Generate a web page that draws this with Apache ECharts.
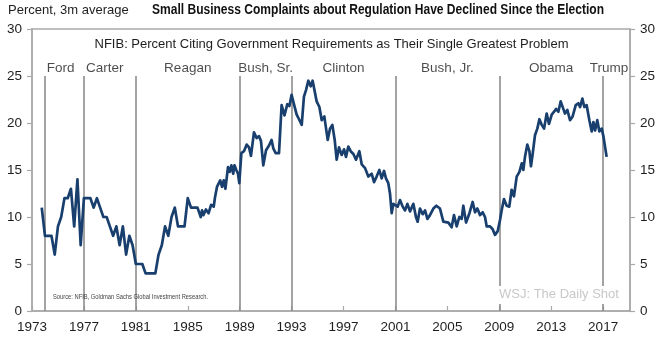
<!DOCTYPE html>
<html>
<head>
<meta charset="utf-8">
<script src="https://cdn.jsdelivr.net/npm/echarts@6/dist/echarts.min.js"></script>
<style>
  html, body { margin: 0; padding: 0; background: #fff; }
  #chart { width: 663px; height: 345px; }
</style>
</head>
<body>
<div id="chart"></div>
<script>
// NFIB survey: share of owners naming government requirements as their single biggest problem (3m average)
const years = [
  1973.75, 1974.0, 1974.25, 1974.5, 1974.75, 1975.0, 1975.25, 1975.5, 1975.75, 1976.0,
  1976.25, 1976.5, 1976.75, 1977.0, 1977.25, 1977.5, 1977.75, 1978.0, 1978.25, 1978.5,
  1978.75, 1979.0, 1979.25, 1979.5, 1979.75, 1980.0, 1980.25, 1980.5, 1980.75, 1981.0,
  1981.25, 1981.5, 1981.75, 1982.0, 1982.25, 1982.5, 1982.75, 1983.0, 1983.25, 1983.5,
  1983.75, 1984.0, 1984.25, 1984.5, 1984.75, 1985.0, 1985.25, 1985.5, 1985.75, 1986.0,
  1986.1, 1986.2, 1986.4, 1986.6, 1986.8, 1987.0, 1987.1, 1987.25, 1987.4, 1987.5,
  1987.64, 1987.77, 1987.9, 1988.1, 1988.23, 1988.36, 1988.5, 1988.6, 1988.74, 1988.87,
  1988.97, 1989.13, 1989.33, 1989.54, 1989.72, 1989.87, 1990.1, 1990.31, 1990.49, 1990.64,
  1990.82, 1991.03, 1991.26, 1991.46, 1991.59, 1991.77, 1992.03, 1992.23, 1992.45, 1992.67,
  1992.83, 1993.0, 1993.18, 1993.39, 1993.57, 1993.78, 1993.95, 1994.11, 1994.29, 1994.47,
  1994.62, 1994.75, 1994.93, 1995.14, 1995.32, 1995.52, 1995.78, 1995.96, 1996.14, 1996.32,
  1996.47, 1996.65, 1996.86, 1997.04, 1997.19, 1997.37, 1997.55, 1997.76, 1997.96, 1998.22,
  1998.4, 1998.66, 1998.91, 1999.17, 1999.35, 1999.55, 1999.76, 1999.94, 2000.12, 2000.27,
  2000.45, 2000.58, 2000.71, 2000.84, 2000.97, 2001.17, 2001.35, 2001.56, 2001.74, 2001.92,
  2002.12, 2002.38, 2002.58, 2002.71, 2002.89, 2003.1, 2003.28, 2003.46, 2003.66, 2003.92,
  2004.15, 2004.43, 2004.69, 2005.08, 2005.33, 2005.51, 2005.72, 2005.92, 2006.1, 2006.23,
  2006.44, 2006.7, 2006.95, 2007.13, 2007.31, 2007.52, 2007.72, 2007.9, 2008.03, 2008.29,
  2008.49, 2008.67, 2008.88, 2009.06, 2009.18, 2009.36, 2009.57, 2009.77, 2009.95, 2010.13,
  2010.34, 2010.55, 2010.73, 2010.85, 2010.98, 2011.16, 2011.32, 2011.44, 2011.57, 2011.75,
  2011.93, 2012.09, 2012.27, 2012.45, 2012.65, 2012.83, 2013.04, 2013.22, 2013.37, 2013.55,
  2013.73, 2013.88, 2014.06, 2014.24, 2014.45, 2014.65, 2014.89, 2015.09, 2015.22, 2015.4,
  2015.55, 2015.73, 2015.94, 2016.12, 2016.25, 2016.38, 2016.55, 2016.71, 2016.89, 2017.02,
  2017.27
];
const values = [
  11, 8, 8, 8, 6, 9, 10, 12, 12, 13,
  9, 14, 7, 12, 12, 12, 11, 12, 11, 10,
  10, 9, 8, 9, 7, 9, 6, 8, 7, 5,
  5, 5, 4, 4, 4, 4, 6, 7, 9, 8,
  10, 11, 9, 9, 9, 12, 11, 11, 11, 10,
  10.7, 10.2, 10.8, 10.4, 11.3, 11.1, 12.1, 13.2, 13.0, 13.9,
  13.2, 13.9, 13.0, 15.3, 14.8, 15.5, 14.6, 15.5, 15.0, 14.6,
  13.6, 16.8, 17.0, 17.7, 17.4, 16.5, 19.0, 18.4, 18.6, 18.1,
  15.5, 17.1, 17.6, 18.2, 17.3, 16.8, 16.8, 21.9, 20.8, 22.0,
  21.8, 23.0, 22.0, 20.9, 20.4, 19.8, 22.8, 23.5, 24.5, 23.9,
  24.5, 24.3, 22.3, 21.7, 20.3, 20.7, 18.2, 19.4, 19.8, 18.2,
  16.1, 17.4, 16.6, 17.2, 16.4, 17.5, 17.0, 16.7, 16.1, 17.0,
  15.6, 15.2, 14.3, 14.6, 13.7, 14.3, 15.0, 14.1, 14.9, 14.1,
  13.6, 12.5, 10.4, 11.4, 11.5, 11.1, 11.8, 11.1, 10.7, 11.4,
  10.6, 11.4, 10.0, 9.5, 10.9, 10.3, 10.7, 9.8, 10.2, 10.9,
  11.2, 10.9, 9.5, 9.4, 8.9, 10.2, 9.0, 10.0, 9.8, 11.2,
  9.4, 10.4, 11.6, 10.5, 10.9, 10.2, 10.5, 10.0, 9.0, 9.0,
  8.7, 8.1, 8.5, 9.7, 10.7, 11.9, 11.2, 11.1, 12.9, 12.2,
  14.3, 14.8, 15.7, 15.0, 16.4, 17.7, 17.0, 15.4, 16.7, 18.7,
  19.4, 20.4, 19.8, 19.4, 21.0, 19.9, 20.9, 21.2, 21.5, 21.2,
  22.3, 22.1, 21.0, 21.4, 20.3, 20.7, 21.9, 22.1, 21.7, 22.6,
  21.7, 21.9, 20.3, 19.1, 20.1, 19.2, 20.3, 19.1, 19.4, 18.6,
  16.4
];

// Administrations: name, first year in office, and where each name sits along the time axis
const presidents = ['Ford', 'Carter', 'Reagan', 'Bush, Sr.', 'Clinton', 'Bush, Jr.', 'Obama', 'Trump'];
const termStarts = [1974, 1977, 1981, 1989, 1993, 2001, 2009, 2017];
const labelYears = [1975.2, 1978.6, 1985, 1991, 1997, 2005, 2013, 2017.45];

// Axis ranges
const yearMin = 1973, yearMax = 2019.07, yearStep = 4;
const pctMin = 0, pctMax = 30, pctStep = 5;

const FONT = '"Liberation Sans", Arial, Helvetica, sans-serif';
const TEXT = '#1e1e1e';
const FRAME = '#a9a9a9';
const NAVY = '#183f6d';

const lineTop = 25;      // vertical term lines run from 0 up to this level
const nameLevel = 25.85; // president names sit just above the lines

const TITLE = 'Small Business Complaints about Regulation Have Declined Since the Election';
const TITLE_FONT = 'bold 14px ' + FONT;
const SOURCE = 'Source: NFIB, Goldman Sachs Global Investment Research.';
const SOURCE_FONT = '7px ' + FONT;

// Condensed look for the headline and source line: squeeze the regular face horizontally
const measureCtx = document.createElement('canvas').getContext('2d');
function squeeze(text, font, targetWidth) {
  measureCtx.font = font;
  const w = measureCtx.measureText(text).width;
  return w > 0 ? targetWidth / w : 1;
}
const titleScale = squeeze(TITLE, TITLE_FONT, 452);
const sourceScale = squeeze(SOURCE, SOURCE_FONT, 155);

const chart = echarts.init(document.getElementById('chart'), null, { renderer: 'canvas' });

const seriesData = years.map((y, i) => [y, values[i]]);
const termLines = termStarts.map(t => [{ coord: [t, pctMin] }, { coord: [t, lineTop] }]);
const nameData = presidents.map((n, i) => ({ value: [labelYears[i], nameLevel], name: n }));

const yAxisCommon = {
  type: 'value', min: pctMin, max: pctMax, interval: pctStep,
  axisLine: { show: true, lineStyle: { color: FRAME, width: 1.5 } },
  axisTick: { show: true, inside: false, length: 5, lineStyle: { color: FRAME, width: 1.2 } },
  splitLine: { show: false },
  axisLabel: { color: TEXT, fontSize: 13.5, fontFamily: FONT, margin: 10 }
};

chart.setOption({
  animation: false,
  backgroundColor: '#ffffff',
  grid: {
    left: 32, right: 33, top: 29, bottom: 34,
    show: true, borderColor: FRAME, borderWidth: 1.5, backgroundColor: 'transparent'
  },
  xAxis: {
    type: 'value', min: yearMin, max: yearMax, interval: yearStep,
    axisLine: { show: true, lineStyle: { color: FRAME, width: 1.5 } },
    axisTick: { show: true, inside: true, length: 5, lineStyle: { color: FRAME, width: 1.2 } },
    splitLine: { show: false },
    axisLabel: {
      color: TEXT, fontSize: 13.5, fontFamily: FONT, margin: 9, showMaxLabel: false,
      formatter: v => (Math.abs(v - Math.round(v)) < 1e-6 && (Math.round(v) - yearMin) % yearStep === 0) ? String(Math.round(v)) : ''
    }
  },
  yAxis: [
    Object.assign({ position: 'left' }, yAxisCommon),
    Object.assign({ position: 'right' }, yAxisCommon)
  ],
  series: [
    {
      name: 'terms',
      type: 'line',
      data: [],
      z: 1,
      silent: true,
      markLine: {
        silent: true,
        symbol: 'none',
        label: { show: false },
        lineStyle: { color: '#8c8c8c', width: 1.6, type: 'solid' },
        data: termLines
      }
    },
    {
      name: 'names',
      type: 'scatter',
      data: nameData,
      symbolSize: 0,
      silent: true,
      z: 3,
      label: {
        show: true, position: 'inside',
        formatter: p => p.name,
        color: TEXT, fontSize: 13.5, fontFamily: FONT
      }
    },
    {
      name: 'NFIB',
      type: 'line',
      data: seriesData,
      showSymbol: false,
      symbol: 'none',
      z: 5,
      lineStyle: { color: NAVY, width: 2.7, join: 'round' }
    }
  ],
  graphic: [
    {
      type: 'text', left: 8, top: 4, z: 100,
      style: { text: 'Percent, 3m average', fill: TEXT, font: '13px ' + FONT }
    },
    {
      type: 'text', x: 152, y: 3, z: 100,
      scaleX: titleScale,
      style: { text: TITLE, fill: '#111', font: TITLE_FONT }
    },
    {
      type: 'text', left: 'center', top: 38, z: 100,
      style: {
        text: 'NFIB: Percent Citing Government Requirements as Their Single Greatest Problem',
        fill: TEXT, font: '13px ' + FONT
      }
    },
    {
      type: 'text', x: 53, y: 294, z: 100,
      scaleX: sourceScale,
      style: { text: SOURCE, fill: '#444', font: SOURCE_FONT }
    },
    {
      type: 'text', left: 497, top: 286, z: 100,
      style: {
        text: 'WSJ: The Daily Shot',
        fill: '#c8c8c8', font: '13px ' + FONT,
        backgroundColor: '#ffffff', padding: [2, 0, 3, 2]
      }
    }
  ]
});
</script>
</body>
</html>
